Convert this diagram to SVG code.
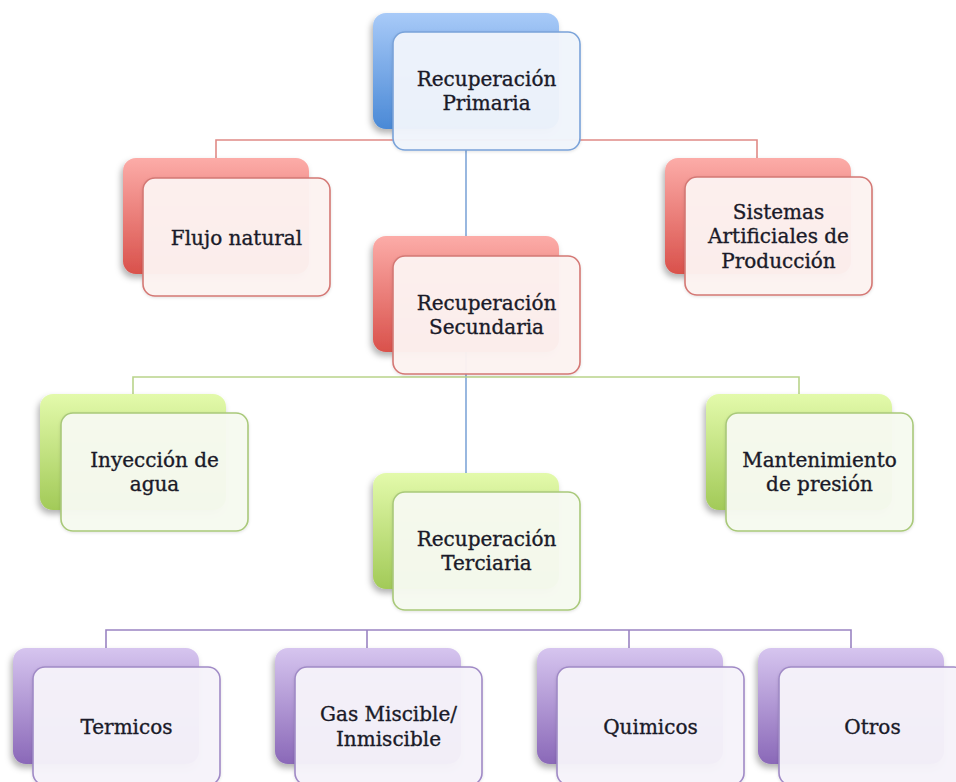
<svg xmlns="http://www.w3.org/2000/svg" width="956" height="782" viewBox="0 0 956 782">
<defs>
  <linearGradient id="gBlue" x1="0" y1="0" x2="0" y2="1"><stop offset="0" stop-color="#a8caf8"/><stop offset="1" stop-color="#4a89d6"/></linearGradient>
  <linearGradient id="gRed" x1="0" y1="0" x2="0" y2="1"><stop offset="0" stop-color="#fcaca8"/><stop offset="1" stop-color="#d9514b"/></linearGradient>
  <linearGradient id="gGreen" x1="0" y1="0" x2="0" y2="1"><stop offset="0" stop-color="#e3faab"/><stop offset="1" stop-color="#a2ca58"/></linearGradient>
  <linearGradient id="gPurple" x1="0" y1="0" x2="0" y2="1"><stop offset="0" stop-color="#d6c5ef"/><stop offset="1" stop-color="#8a68b8"/></linearGradient>
  <filter id="sh" x="-20%" y="-20%" width="140%" height="150%"><feDropShadow dx="-2" dy="4" stdDeviation="3" flood-color="#000" flood-opacity="0.3"/></filter>
  <filter id="sh2" x="-20%" y="-20%" width="140%" height="150%"><feDropShadow dx="0" dy="1" stdDeviation="1.5" flood-color="#000" flood-opacity="0.12"/></filter>
</defs>
<style>
  .bk{filter:url(#sh)}
  .fr{stroke-width:1.6;filter:url(#sh2)}
  .blue .bk{fill:url(#gBlue)} .blue .fr{fill:#f0f5fc;fill-opacity:0.96;stroke:#7aa3d9}
  .red .bk{fill:url(#gRed)} .red .fr{fill:#fdf2f1;fill-opacity:0.96;stroke:#d47874}
  .green .bk{fill:url(#gGreen)} .green .fr{fill:#f7faf0;fill-opacity:0.96;stroke:#a9c97a}
  .purple .bk{fill:url(#gPurple)} .purple .fr{fill:#f6f3fa;fill-opacity:0.96;stroke:#a08ac6}
  text{font-family:"DejaVu Serif","Liberation Serif",serif;font-size:20px;fill:#1a1a28;stroke:#1a1a28;stroke-width:0.35;text-anchor:middle}
  .ln{fill:none;stroke-width:1.6}
</style>
<g id="connectors">
  <path class="ln" stroke="#7fa6d8" d="M466 150V492"/>
  <path class="ln" stroke="#e08a86" d="M216 158V140H757V158"/>
  <path class="ln" stroke="#b9d48b" d="M133 394V377H799V394"/>
  <path class="ln" stroke="#9a84c2" d="M106 648V630H851V648M367 630V648M629 630V648"/>
</g>
<g id="primaria" class="blue">
  <rect class="bk" x="373" y="13" width="186" height="116" rx="13"/>
  <rect class="fr" x="393" y="32" width="187" height="118" rx="12"/>
  <text x="486.5" y="86">Recuperación</text><text x="486.5" y="110">Primaria</text>
</g>
<g id="flujo" class="red">
  <rect class="bk" x="123" y="158" width="186" height="116" rx="13"/>
  <rect class="fr" x="143" y="178" width="187" height="118" rx="12"/>
  <text x="236.5" y="245">Flujo natural</text>
</g>
<g id="sistemas" class="red">
  <rect class="bk" x="665" y="158" width="186" height="116" rx="13"/>
  <rect class="fr" x="685" y="177" width="187" height="118" rx="12"/>
  <text x="778.5" y="219">Sistemas</text><text x="778.5" y="243">Artificiales de</text><text x="778.5" y="268">Producción</text>
</g>
<g id="secundaria" class="red">
  <rect class="bk" x="373" y="236" width="186" height="116" rx="13"/>
  <rect class="fr" x="393" y="256" width="187" height="118" rx="12"/>
  <text x="486.5" y="310">Recuperación</text><text x="486.5" y="334">Secundaria</text>
</g>
<g id="inyeccion" class="green">
  <rect class="bk" x="40" y="394" width="186" height="116" rx="13"/>
  <rect class="fr" x="61" y="413" width="187" height="118" rx="12"/>
  <text x="154.5" y="467">Inyección de</text><text x="154.5" y="491">agua</text>
</g>
<g id="mantenimiento" class="green">
  <rect class="bk" x="706" y="394" width="186" height="116" rx="13"/>
  <rect class="fr" x="726" y="413" width="187" height="118" rx="12"/>
  <text x="819.5" y="467">Mantenimiento</text><text x="819.5" y="491">de presión</text>
</g>
<g id="terciaria" class="green">
  <rect class="bk" x="373" y="473" width="186" height="116" rx="13"/>
  <rect class="fr" x="393" y="492" width="187" height="118" rx="12"/>
  <text x="486.5" y="546">Recuperación</text><text x="486.5" y="570">Terciaria</text>
</g>
<g id="termicos" class="purple">
  <rect class="bk" x="13" y="648" width="186" height="116" rx="13"/>
  <rect class="fr" x="33" y="667" width="187" height="118" rx="12"/>
  <text x="126.5" y="734">Termicos</text>
</g>
<g id="gas" class="purple">
  <rect class="bk" x="275" y="648" width="186" height="116" rx="13"/>
  <rect class="fr" x="295" y="667" width="187" height="118" rx="12"/>
  <text x="388.5" y="721">Gas Miscible/</text><text x="388.5" y="746">Inmiscible</text>
</g>
<g id="quimicos" class="purple">
  <rect class="bk" x="537" y="648" width="186" height="116" rx="13"/>
  <rect class="fr" x="557" y="667" width="187" height="118" rx="12"/>
  <text x="650.5" y="734">Quimicos</text>
</g>
<g id="otros" class="purple">
  <rect class="bk" x="758" y="648" width="186" height="116" rx="13"/>
  <rect class="fr" x="779" y="667" width="187" height="118" rx="12"/>
  <text x="872.5" y="734">Otros</text>
</g>
</svg>
